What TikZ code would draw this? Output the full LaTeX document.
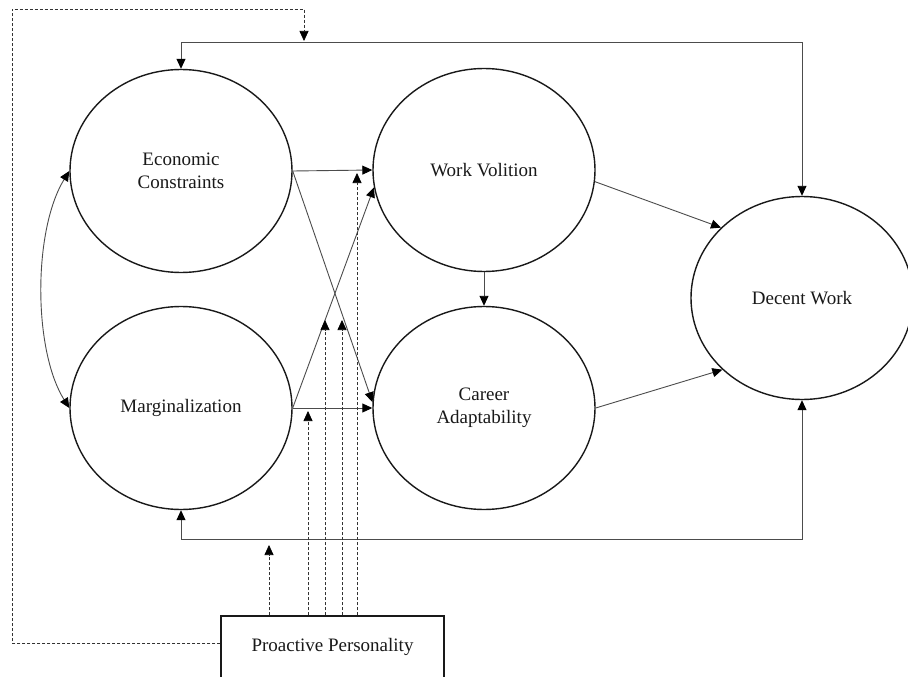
\documentclass[tikz,border=0pt]{standalone}
\usepackage{fontspec}
\setmainfont{Liberation Serif}
\usetikzlibrary{arrows.meta,shapes.geometric,calc}
\begin{document}
\begin{tikzpicture}[x=1pt,y=-1pt,
  tipA/.tip={Triangle[length=10pt,width=9pt,color=black]},
  construct/.style={draw=black!90,line width=1.4pt,ellipse,minimum width=222pt,minimum height=203pt,inner sep=0pt,align=center,font=\fontsize{19}{23}\selectfont,text=black!90},
  pbox/.style={draw=black!90,line width=1.4pt,rectangle,minimum width=223pt,minimum height=62pt,inner sep=0pt,font=\fontsize{19}{23}\selectfont,text=black!90},
  conn/.style={draw=black!70,line width=0.9pt,-tipA},
  both/.style={draw=black!70,line width=0.9pt,tipA-tipA},
  mod/.style={draw=black!80,line width=0.75pt,dash pattern=on 3pt off 2pt,-tipA}
]
\useasboundingbox (0,0) rectangle (908,677);
\fill[white] (0,0) rectangle (908,677);

% constructs
\node[construct] (ec) at (181,171) {Economic\\Constraints};
\node[construct] (mg) at (181,408) {Marginalization};
\node[construct] (wv) at (484,170) {Work Volition};
\node[construct] (ca) at (484,408) {Career\\Adaptability};
\node[construct] (dw) at (802,298) {Decent Work};
\node[pbox] (pp) at (332.5,647) {Proactive Personality};

% paths
\draw[conn] (ec.east) -- (wv.west);
\draw[conn] (ec.east) -- (ca.177);
\draw[conn] (mg.east) -- (wv.189);
\draw[conn] (mg.east) -- (ca.west);
\draw[conn] (wv.south) -- (ca.north);
\draw[conn] (wv.-6) -- (dw.139);
\draw[conn] (ca.east) -- (dw.222);

% outer paths
\coordinate (topy) at (0,42);
\coordinate (boty) at (0,539);
\draw[both] (ec.north) -- (ec.north |- topy) -- (dw.north |- topy) -- (dw.north);
\draw[both] (mg.south) -- (mg.south |- boty) -- (dw.south |- boty) -- (dw.south);

% covariance
\draw[both] (ec.west) .. controls (33,230) and (33,350) .. (mg.west);

% moderation
\coordinate (m1) at (269,545);
\coordinate (m2) at (308,411);
\coordinate (m3) at (325,320);
\coordinate (m4) at (342,320);
\coordinate (m5) at (357,173);
\coordinate (m6) at (304,41);
\foreach \m in {m1,m2,m3,m4,m5}
  \draw[mod] (pp.north -| \m) -- (\m);
\draw[mod] ($(pp.west)+(0,-4)$) -| (12,9) -| (m6);
\end{tikzpicture}
\end{document}
